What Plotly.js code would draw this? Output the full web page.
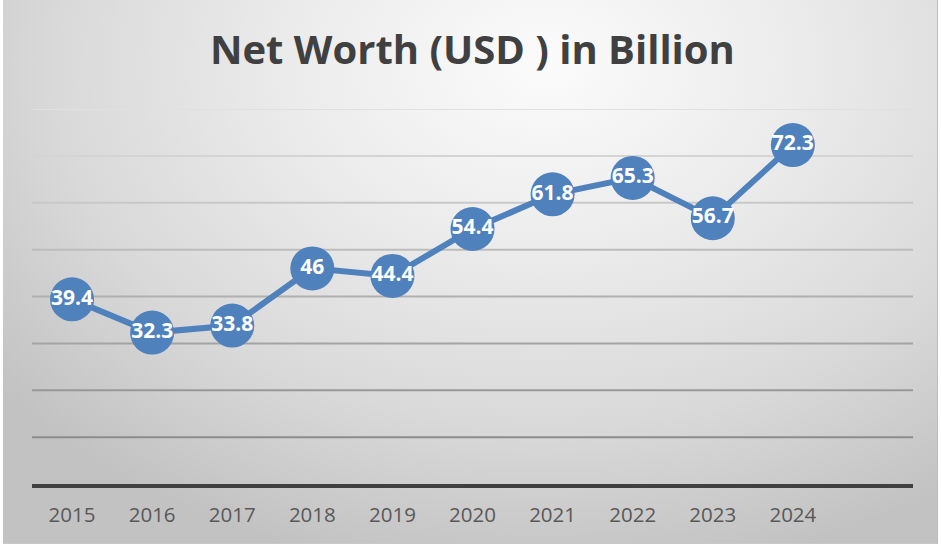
<!DOCTYPE html>
<html>
<head>
<meta charset="utf-8">
<script src="https://cdn.plot.ly/plotly-3.0.1.min.js"></script>
<style>
  html, body { margin: 0; padding: 0; background: #ffffff; width: 941px; height: 546px; overflow: hidden; }
  #frame { position: absolute; left: 3px; top: 0px; width: 934px; height: 543px;
    background: radial-gradient(ellipse 75% 95% at 58% 12%, #fbfbfb 0%, #ececec 35%, #d9d9d9 70%, #c2c2c2 100%);
    border-right: 1px solid #bdbdbd; border-bottom: 1px solid #c8c8c8; }
  #chart { position: absolute; left: 0; top: 0; width: 941px; height: 546px; }
</style>
</head>
<body>
<div id="frame"></div>
<div id="chart"></div>
<script>
const years = ['2015','2016','2017','2018','2019','2020','2021','2022','2023','2024'];
const netWorth = [39.4, 32.3, 33.8, 46, 44.4, 54.4, 61.8, 65.3, 56.7, 72.3];
const gridValues = [10, 20, 30, 40, 50, 60, 70, 80];
const titleText = 'Net Worth (USD ) in Billion';

// gridline colours fade from dark (bottom) to light (top), like the reference
function gridColor(v) {
  const t = (v - 10) / 70;
  const c = Math.round(140 + t * (224 - 140));
  return 'rgb(' + c + ',' + c + ',' + c + ')';
}
const shapes = gridValues.map(v => ({
  type: 'line', xref: 'paper', yref: 'y', x0: 0, x1: 1, y0: v, y1: v,
  line: { color: gridColor(v), width: 2 }, layer: 'below'
}));

const trace = {
  type: 'scatter',
  mode: 'lines+markers+text',
  x: years,
  y: netWorth,
  text: netWorth.map(String),
  textposition: 'middle center',
  textfont: { family: 'Open Sans, sans-serif', size: 21, color: '#ffffff', weight: 'bold' },
  line: { color: '#4f81bd', width: 6 },
  marker: { color: '#4f81bd', size: 44, line: { width: 0 } },
  hoverinfo: 'x+y',
  cliponaxis: false
};

const layout = {
  width: 941, height: 546,
  paper_bgcolor: 'rgba(0,0,0,0)',
  plot_bgcolor: 'rgba(0,0,0,0)',
  margin: { l: 32, r: 28, t: 109, b: 62 },
  title: {
    text: titleText,
    font: { family: 'Open Sans, sans-serif', size: 40, color: '#404040', weight: 'bold' },
    x: 0.502, xanchor: 'center', y: 0.908, yanchor: 'middle'
  },
  showlegend: false,
  xaxis: {
    type: 'category',
    range: [-0.5, 10.5],
    showgrid: false, zeroline: false,
    showline: true, linecolor: '#404040', linewidth: 4,
    ticks: '', ticklen: 0,
    ticklabelstandoff: 9,
    tickfont: { family: 'Open Sans, sans-serif', size: 20.5, color: '#595959' },
    fixedrange: true
  },
  yaxis: {
    range: [0, 80],
    showgrid: false, zeroline: false, showline: false,
    showticklabels: false, ticks: '',
    fixedrange: true
  },
  shapes: shapes
};

Plotly.newPlot('chart', [trace], layout, { displayModeBar: false, staticPlot: true });
</script>
</body>
</html>
